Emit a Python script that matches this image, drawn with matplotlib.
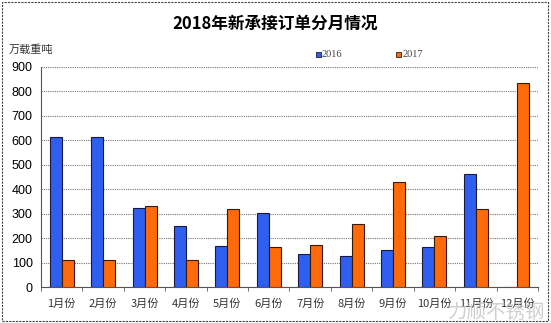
import numpy as np
import matplotlib.pyplot as plt
from matplotlib.patches import Rectangle

plt.rcParams['font.family'] = ['Noto Sans CJK SC', 'DejaVu Sans']

# data
months = ['1月份', '2月份', '3月份', '4月份', '5月份', '6月份',
          '7月份', '8月份', '9月份', '10月份', '11月份', '12月份']
vals_2016 = [614, 614, 325, 250, 167, 302, 135, 126, 150, 164, 461, 0]
vals_2017 = [109, 109, 332, 112, 320, 164, 174, 260, 428, 207, 319, 836]
yticks = [0, 100, 200, 300, 400, 500, 600, 700, 800, 900]

c16 = '#2f5ff0'
c17 = '#ff6a0a'

fig = plt.figure(figsize=(5.51, 3.23), dpi=100)
ax = fig.add_axes([0.0744, 0.111, 0.902, 0.682])

x = np.arange(len(months))
w = 0.29
ax.bar(x - w/2, vals_2016, w, color=c16, edgecolor='#1a1a40', linewidth=0.8, zorder=3, label='2016')
ax.bar(x + w/2, vals_2017, w, color=c17, edgecolor='#3a1a00', linewidth=0.8, zorder=3, label='2017')

ax.set_xlim(-0.5, len(months) - 0.5)
ax.set_ylim(0, 900)
ax.set_yticks(yticks)
ax.set_yticklabels([str(v) for v in yticks], fontsize=9, family=['Liberation Sans', 'DejaVu Sans'])
ax.set_xticks(x)
ax.set_xticklabels(months, fontsize=8, color='#333333')
ax.set_xticks(np.arange(-0.5, len(months), 1), minor=True)
ax.tick_params(axis='x', which='major', length=0, pad=8)
ax.tick_params(axis='x', which='minor', length=3, direction='out', color='#555555')
ax.tick_params(axis='y', length=0, pad=6)
ax.grid(axis='y', linestyle=(0, (1, 1)), color='#777777', linewidth=0.8, zorder=0)
for s in ['top', 'right']:
    ax.spines[s].set_visible(False)
ax.spines['left'].set_color('#555555')
ax.spines['bottom'].set_color('#555555')

fig.text(0.5, 0.925, '2018年新承接订单分月情况', ha='center', va='center',
         fontsize=12, fontweight='bold')
fig.text(0.015, 0.845, '万载重吨', ha='left', va='center', fontsize=8, color='#333333')

# legend
fig.patches.append(Rectangle((0.573, 0.822), 0.009, 0.016, transform=fig.transFigure,
                             facecolor=c16, edgecolor='#1a1a40', linewidth=0.6))
fig.text(0.584, 0.830, '2016', ha='left', va='center', fontsize=7.5, color='#444444',
         family=['Liberation Serif', 'DejaVu Serif'])
fig.patches.append(Rectangle((0.719, 0.822), 0.009, 0.016, transform=fig.transFigure,
                             facecolor=c17, edgecolor='#3a1a00', linewidth=0.6))
fig.text(0.730, 0.830, '2017', ha='left', va='center', fontsize=7.5, color='#444444',
         family=['Liberation Serif', 'DejaVu Serif'])

# dashed frame around the picture
fig.patches.append(Rectangle((0.003, 0.005), 0.992, 0.99, transform=fig.transFigure,
                             fill=False, edgecolor='#444444', linewidth=0.8, linestyle=(0, (2, 1))))

# watermark
fig.text(0.99, 0.0, '力顺不锈钢', ha='right', va='bottom', fontsize=14, color='#c4c4c4', alpha=0.8)

fig.savefig('out.png', dpi=100)
